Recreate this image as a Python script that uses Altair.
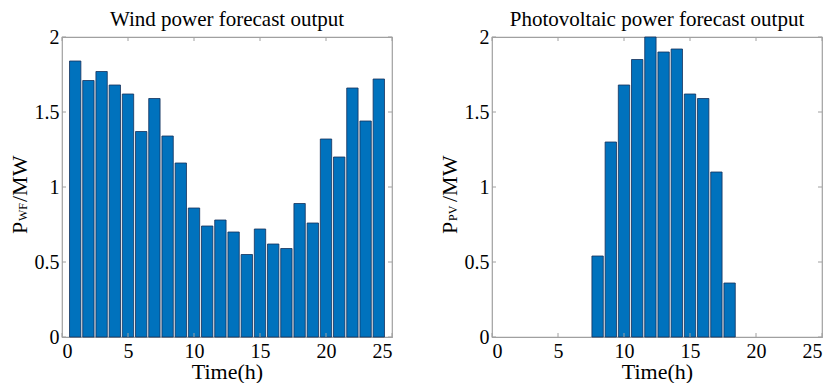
import altair as alt
import pandas as pd

hours = list(range(1, 25))
wind = [1.84, 1.71, 1.77, 1.68, 1.62, 1.37, 1.59, 1.34, 1.16, 0.86, 0.74, 0.78,
        0.70, 0.55, 0.72, 0.62, 0.59, 0.89, 0.76, 1.32, 1.20, 1.66, 1.44, 1.72]
pv_hours = [8, 9, 10, 11, 12, 13, 14, 15, 16, 17, 18]
pv = [0.54, 1.30, 1.68, 1.85, 2.00, 1.90, 1.92, 1.62, 1.59, 1.10, 0.36]
x_ticks = [0, 5, 10, 15, 20, 25]
y_ticks = [0, 0.5, 1, 1.5, 2]

FONT = "Liberation Serif"
W, H = 330, 300
BAR_HALF = 0.43
BLUE = "#0072BD"
TICKC = "#a0a0a0"


def panel(xs, ys, title, sub):
    df = pd.DataFrame({"t": xs, "p": ys})
    xscale = alt.Scale(domain=[0, 25], nice=False, zero=False)
    yscale = alt.Scale(domain=[0, 2], nice=False)
    bars = alt.Chart(df).transform_calculate(
        x0=f"datum.t - {BAR_HALF}", x1=f"datum.t + {BAR_HALF}"
    ).mark_bar(color=BLUE, stroke="#14305a", strokeWidth=0.8).encode(
        x=alt.X("x0:Q", scale=xscale,
                axis=alt.Axis(values=x_ticks, title="Time(h)", labelPadding=4,
                              titlePadding=0, labelFont=FONT, titleFont=FONT,
                              labelFontSize=20, titleFontSize=22,
                              titleFontWeight="normal")),
        x2="x1:Q",
        y=alt.Y("p:Q", scale=yscale,
                axis=alt.Axis(values=y_ticks, title=None, labelPadding=3,
                              labelFont=FONT, labelFontSize=20,
                              labelExpr="'' + datum.value")),
        y2=alt.datum(0),
    )
    xt = pd.DataFrame({"v": x_ticks})
    yt = pd.DataFrame({"v": y_ticks})
    xb = alt.Chart(xt).mark_rule(color=TICKC, strokeWidth=1).encode(
        x=alt.X("v:Q", scale=xscale), y=alt.value(H), y2=alt.value(H - 4))
    xtp = alt.Chart(xt).mark_rule(color=TICKC, strokeWidth=1).encode(
        x=alt.X("v:Q", scale=xscale), y=alt.value(0), y2=alt.value(4))
    yl = alt.Chart(yt).mark_rule(color=TICKC, strokeWidth=1).encode(
        y=alt.Y("v:Q", scale=yscale), x=alt.value(0), x2=alt.value(4))
    yr = alt.Chart(yt).mark_rule(color=TICKC, strokeWidth=1).encode(
        y=alt.Y("v:Q", scale=yscale), x=alt.value(W), x2=alt.value(W - 4))

    def lab(txt, size, ypos):
        return alt.Chart(pd.DataFrame({"s": [txt]})).mark_text(
            font=FONT, fontSize=size, angle=270, align="left",
            baseline="alphabetic", color="black"
        ).encode(text="s:N", x=alt.value(-35), y=alt.value(ypos))

    ttl = alt.layer(lab("P", 22, 197), lab(sub, 12, 184), lab("/MW", 22, 165))
    return alt.layer(bars, xb, xtp, yl, yr, ttl).properties(
        width=W, height=H,
        title=alt.TitleParams(title, font=FONT, fontSize=21, fontWeight="normal",
                              color="black", offset=-3, frame="group"),
    )


left = panel(hours, wind, "Wind power forecast output", "WF")
right = panel(pv_hours, pv, "Photovoltaic power forecast output", "PV")

chart = alt.hconcat(left, right, spacing=44).properties(
    padding={"left": 0, "top": 0, "right": 0, "bottom": 0}
).configure_view(stroke="#a0a0a0", strokeWidth=1.2).configure_axis(
    labelFont=FONT, labelFontSize=20, labelColor="black", titleFont=FONT,
    titleFontSize=22, titleFontWeight="normal", titleColor="black",
    ticks=False, domain=False, grid=False,
)

chart.save("out.html", embed_options={"renderer": "svg", "actions": False})
